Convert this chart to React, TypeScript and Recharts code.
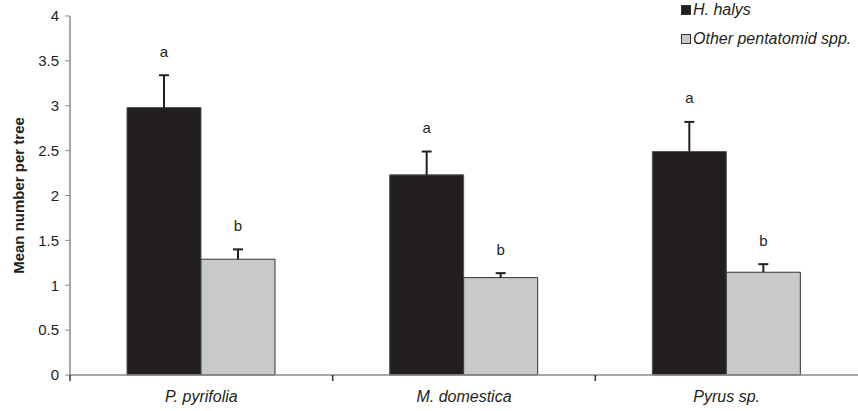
import { Bar, BarChart, LabelList, XAxis, YAxis } from "recharts";

const hosts = ["P. pyrifolia", "M. domestica", "Pyrus sp."];
const halysMean = [2.98, 2.23, 2.49];
const halysSe = [0.36, 0.26, 0.33];
const otherMean = [1.29, 1.085, 1.145];
const otherSe = [0.11, 0.05, 0.09];
const halysLetters = ["a", "a", "a"];
const otherLetters = ["b", "b", "b"];
const yTicks = [0, 0.5, 1, 1.5, 2, 2.5, 3, 3.5, 4];

const BLACK = "#231f20";
const GREY = "#c8c9cb";
const AXIS = "#8a8a8a";
const FONT = "'Liberation Sans', Arial, sans-serif";
const NARROW = "'Liberation Sans Narrow', 'Arial Narrow', 'Liberation Sans', sans-serif";

const data = hosts.map((host, i) => ({
  host,
  halys: halysMean[i],
  other: otherMean[i],
}));

// upper-only error bar plus the significance letter ~24px above its cap
function errAndLetter(letters: string[], se: number[]) {
  return (props: any) => {
    const { x, y, width, height, value, index } = props;
    const pxPerUnit = height / value;
    const cx = x + width / 2;
    const top = y - se[index] * pxPerUnit;
    return (
      <g>
        <line x1={cx} x2={cx} y1={y} y2={top} stroke={BLACK} strokeWidth={2} />
        <line x1={cx - 5} x2={cx + 5} y1={top} y2={top} stroke={BLACK} strokeWidth={2} />
        <text x={cx} y={top - 24 + 5.5} textAnchor="middle" fontSize={15} fontFamily={FONT} fill={BLACK}>
          {letters[index]}
        </text>
      </g>
    );
  };
}

// category label plus a tick mark at the left edge of each band
function CategoryTick(props: any) {
  const { x, y, payload, width, visibleTicksCount } = props;
  const half = payload?.offset || width / (2 * visibleTicksCount);
  const edge = x - half;
  return (
    <g>
      <line x1={edge} x2={edge} y1={y} y2={y + 6} stroke="#333" strokeWidth={1.5} />
      <text x={x} y={y + 27} textAnchor="middle" fontSize={16} fontStyle="italic" fontFamily={NARROW} fill={BLACK}>
        {payload.value}
      </text>
    </g>
  );
}

function LegendBox() {
  const items = [
    { label: "H. halys", color: BLACK },
    { label: "Other pentatomid spp.", color: GREY },
  ];
  return (
    <div style={{ position: "absolute", left: 681, top: -5, fontFamily: FONT, fontStyle: "italic", fontSize: 16, color: BLACK }}>
      {items.map((it) => (
        <div key={it.label} style={{ display: "flex", alignItems: "center", height: 29, whiteSpace: "nowrap" }}>
          <span
            style={{
              display: "inline-block",
              width: 8,
              height: 8,
              background: it.color,
              border: "1px solid #333",
              marginRight: 2,
            }}
          />
          {it.label}
        </div>
      ))}
    </div>
  );
}

export default function App() {
  return (
    <div style={{ position: "relative", width: 858, height: 411 }}>
      <style>{`body{margin:0}`}</style>
      <BarChart
        width={858}
        height={411}
        data={data}
        margin={{ top: 16, right: 0, bottom: 0, left: 0 }}
        barCategoryGap="21.7%"
        barGap={0}
      >
        <XAxis
          dataKey="host"
          height={36}
          axisLine={{ stroke: AXIS, strokeWidth: 1.5 }}
          tickLine={false}
          tickSize={0}
          tickMargin={0}
          interval={0}
          tick={<CategoryTick />}
        />
        <YAxis
          width={70}
          domain={[0, 4]}
          ticks={yTicks}
          interval={0}
          axisLine={{ stroke: AXIS, strokeWidth: 1.5 }}
          tickLine={{ stroke: AXIS }}
          tickSize={5}
          tickMargin={6}
          tick={{ fontSize: 15, fontFamily: FONT, fill: BLACK }}
          label={{
            content: ({ viewBox }: any) => {
              const cx = viewBox.x + 18;
              const cy = viewBox.y + viewBox.height / 2;
              return (
                <text x={cx} y={cy} transform={`rotate(-90 ${cx} ${cy})`} textAnchor="middle"
                  dominantBaseline="central" fontSize={15} fontWeight="bold" fontFamily={FONT} fill={BLACK}>
                  Mean number per tree
                </text>
              );
            },
          }}
        />
        <Bar dataKey="halys" name="H. halys" fill={BLACK} stroke="#555" strokeWidth={1} isAnimationActive={false}>
          <LabelList dataKey="halys" content={errAndLetter(halysLetters, halysSe)} />
        </Bar>
        <Bar dataKey="other" name="Other pentatomid spp." fill={GREY} stroke="#333" strokeWidth={1} isAnimationActive={false}>
          <LabelList dataKey="other" content={errAndLetter(otherLetters, otherSe)} />
        </Bar>
      </BarChart>
      <LegendBox />
    </div>
  );
}
